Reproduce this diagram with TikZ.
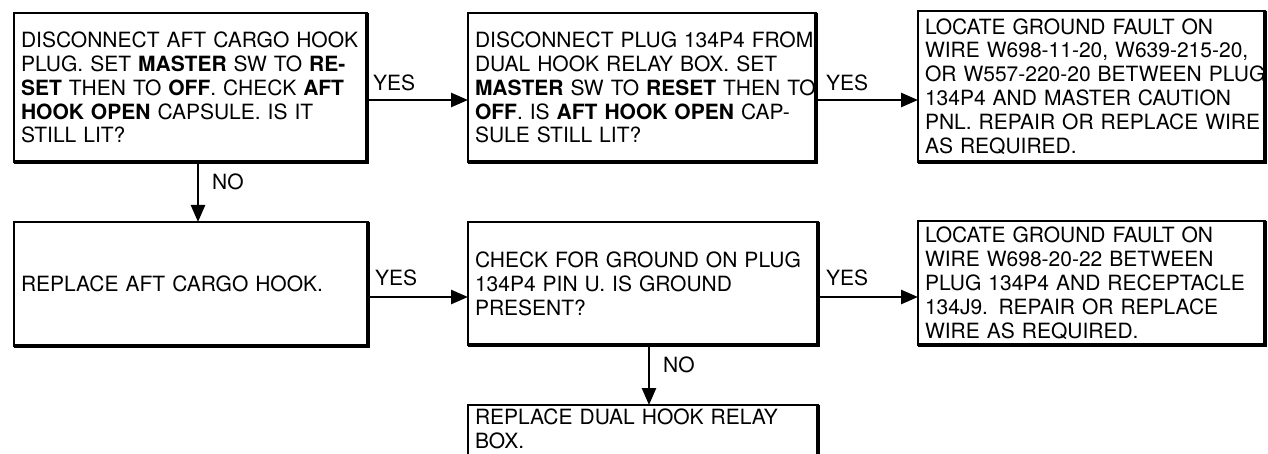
\documentclass[tikz,border=0pt]{standalone}
\usepackage{fontspec}
\setmainfont{TeX Gyre Heros}
\usetikzlibrary{arrows.meta}
\newcommand\fs{\fontsize{21}{23.9}\selectfont}
\newcommand\Ln[1]{\mbox{#1}}
\begin{document}
\begin{tikzpicture}[x=1pt,y=-1pt,
  box/.style={draw, line width=2.5pt, anchor=north west, outer sep=0pt,
    inner xsep=7pt, inner ysep=4pt, align=left, font=\fs},
  arr/.style={line width=2.6pt, -{Triangle[length=17pt,width=14pt]}},
  lbl/.style={inner sep=0pt, anchor=west, font=\fs}]
\useasboundingbox (0,0) rectangle (1268,454);

\node[box, text width=339pt, minimum height=149pt] (b1) at (14,13)
 {\Ln{DISCONNECT AFT CARGO HOOK}\\
  \Ln{PLUG. SET \textbf{MASTER} SW TO \textbf{RE-}}\\
  \Ln{\textbf{SET} THEN TO \textbf{OFF}. CHECK \textbf{AFT}}\\
  \Ln{\textbf{HOOK OPEN} CAPSULE. IS IT}\\
  \Ln{STILL LIT?}};

\node[box, text width=334pt, minimum height=149pt] (b2) at (468,13)
 {\Ln{DISCONNECT PLUG 134P4 FROM}\\
  \Ln{DUAL HOOK RELAY BOX. SET}\\
  \Ln{\textbf{MASTER} SW TO \textbf{RESET} THEN TO}\\
  \Ln{\textbf{OFF}. IS \textbf{AFT HOOK OPEN} CAP-}\\
  \Ln{SULE STILL LIT?}};

\node[box, text width=333pt, minimum height=151pt] (b3) at (918,11)
 {\Ln{LOCATE GROUND FAULT ON}\\
  \Ln{WIRE W698-11-20, W639-215-20,}\\
  \Ln{OR W557-220-20 BETWEEN PLUG}\\
  \Ln{134P4 AND MASTER CAUTION}\\
  \Ln{PNL. REPAIR OR REPLACE WIRE}\\
  \Ln{AS REQUIRED.}};

\node[box, text width=340pt, minimum height=124pt] (b4) at (14,222)
 {\Ln{REPLACE AFT CARGO HOOK.}};

\node[box, text width=336pt, minimum height=123pt] (b5) at (468,222)
 {\Ln{CHECK FOR GROUND ON PLUG}\\
  \Ln{134P4 PIN U. IS GROUND}\\
  \Ln{PRESENT?}};

\node[box, text width=333pt, minimum height=124pt] (b6) at (918,221)
 {\Ln{LOCATE GROUND FAULT ON}\\
  \Ln{WIRE W698-20-22 BETWEEN}\\
  \Ln{PLUG 134P4 AND RECEPTACLE}\\
  \Ln{134J9. REPAIR OR REPLACE}\\
  \Ln{WIRE AS REQUIRED.}};

\node[box, text width=336pt, text depth=100pt] (b7) at (468,405)
 {\Ln{REPLACE DUAL HOOK RELAY}\\
  \Ln{BOX.}};

\foreach \n in {b1,b2,b3,b4,b5,b6,b7}
  \draw[line width=4pt] (\n.north east) -- (\n.south east) -- (\n.south west);

\coordinate (ya) at (0,100);
\coordinate (yb) at (0,297);
\coordinate (xa) at (198,0);
\coordinate (xb) at (649,0);

\draw[arr] (b1.east |- ya) -- (b2.west |- ya);
\draw[arr] (b2.east |- ya) -- (b3.west |- ya);
\draw[arr] (b4.east |- yb) -- (b5.west |- yb);
\draw[arr] (b5.east |- yb) -- (b6.west |- yb);
\draw[arr] (xa |- b1.south) -- (xa |- b4.north);
\draw[arr] (xb |- b5.south) -- (xb |- b7.north);

\node[lbl] (l1) at (373,83) {YES};
\node[lbl] (l2) at (826,83) {YES};
\node[lbl] (l3) at (212,182) {NO};
\node[lbl] (l4) at (375,278) {YES};
\node[lbl] (l5) at (826,278) {YES};
\node[lbl] (l6) at (663,365) {NO};
\end{tikzpicture}
\end{document}
